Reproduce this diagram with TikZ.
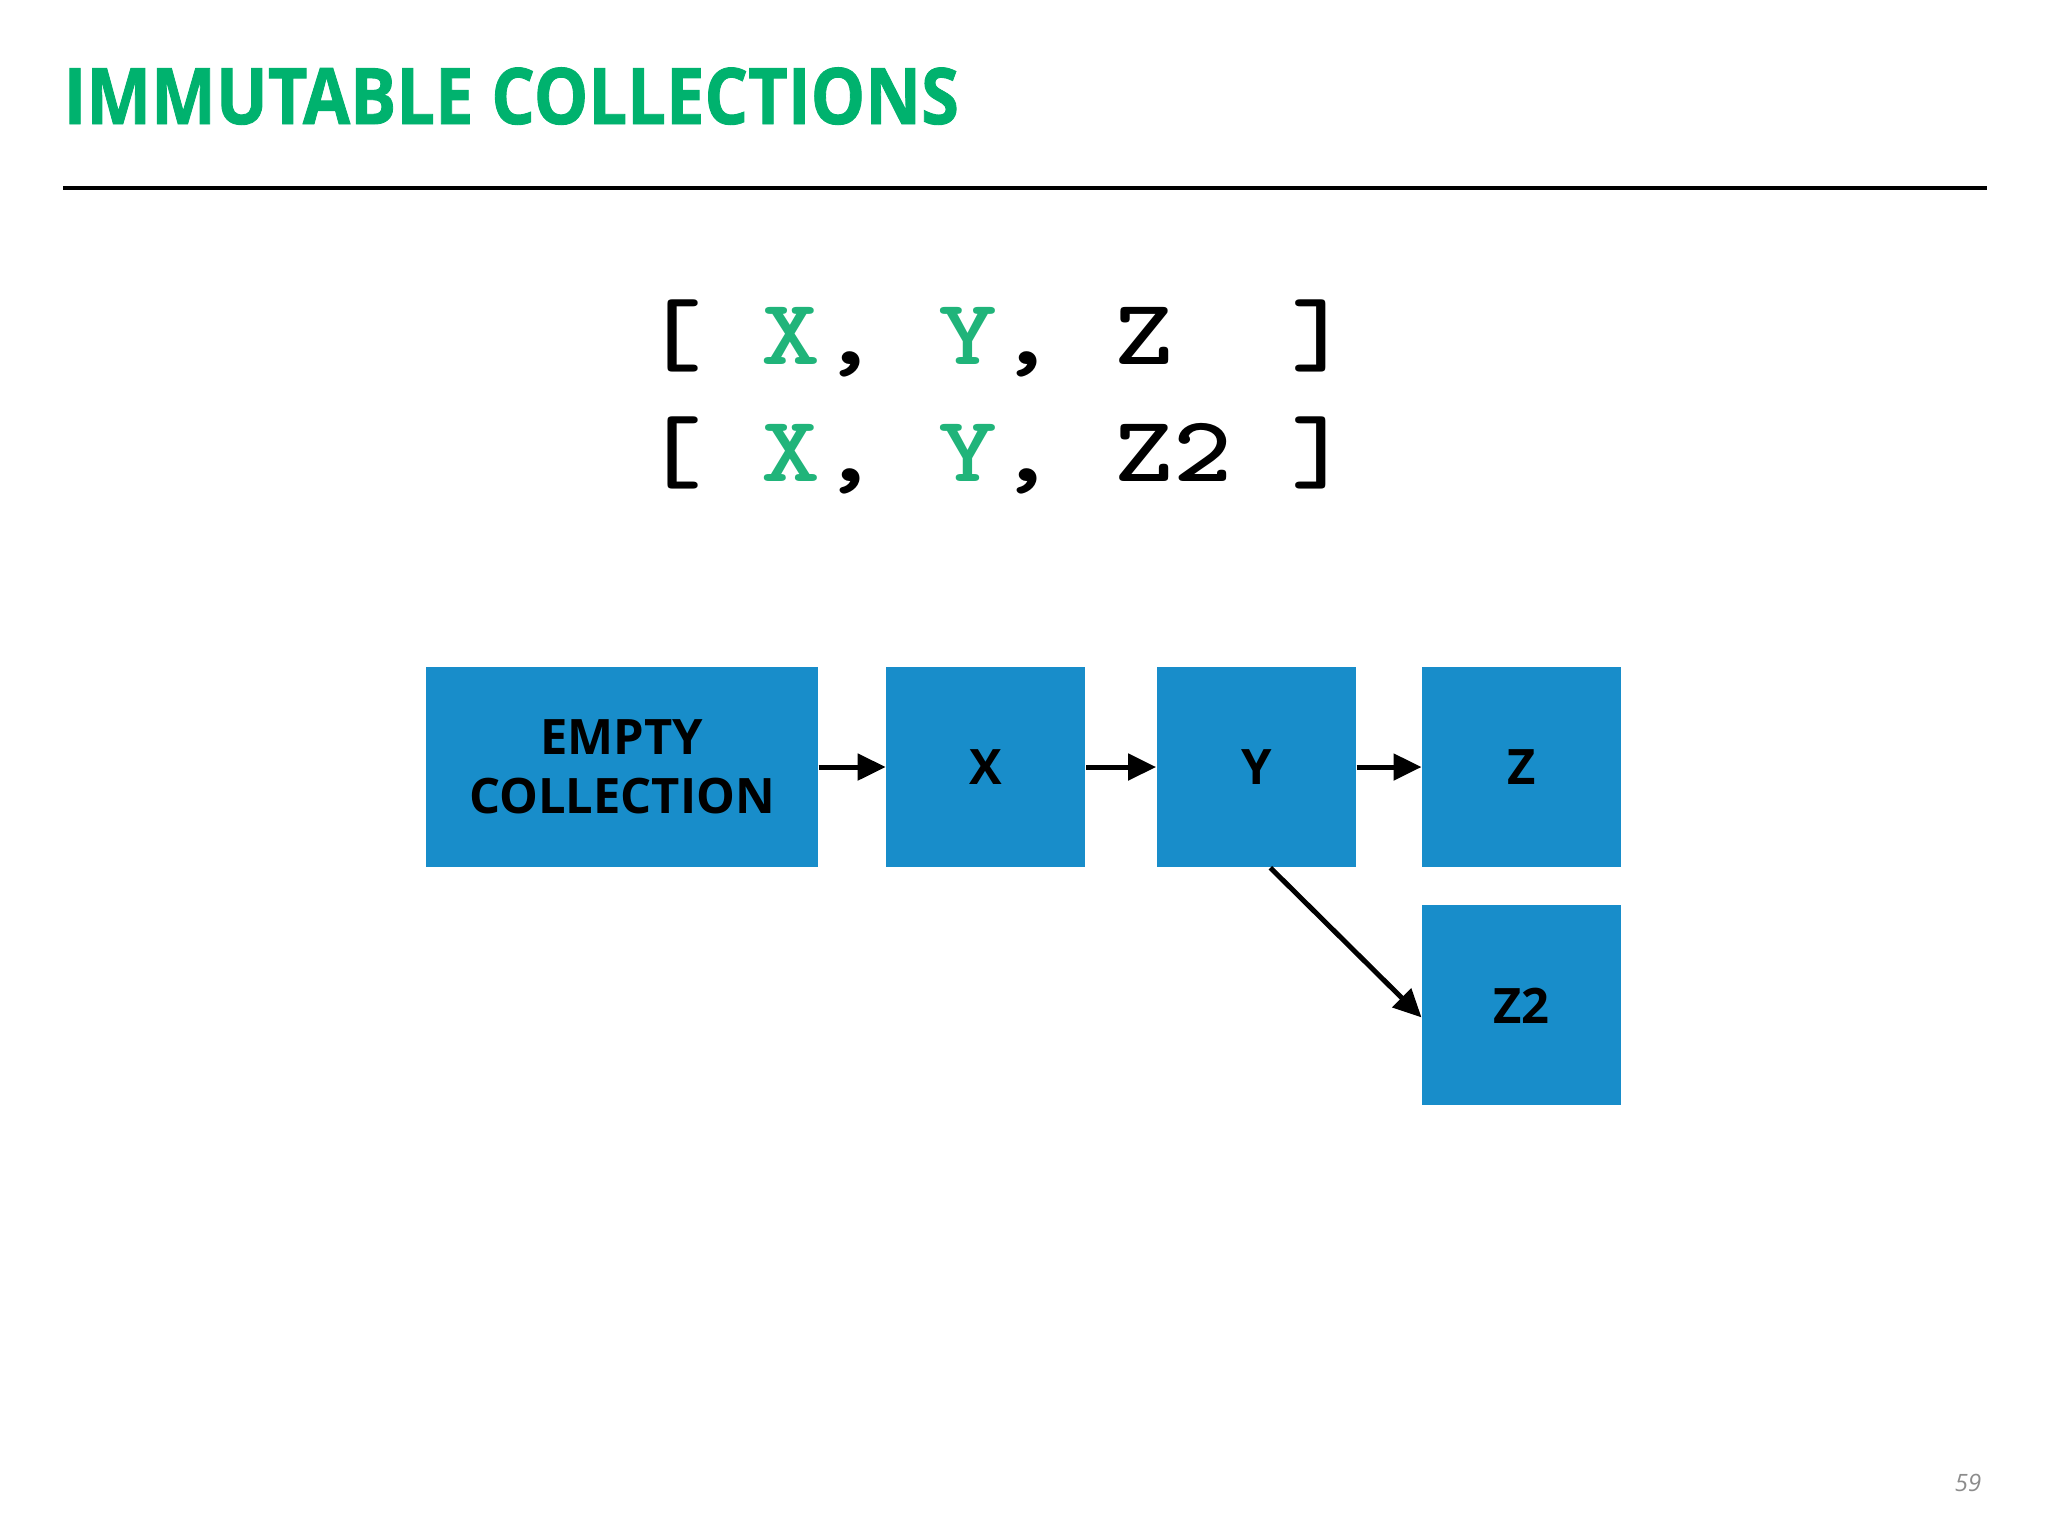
\documentclass[tikz,border=0pt]{standalone}
\usepackage{fontspec}
\setmainfont{Open Sans}
\usetikzlibrary{positioning,arrows.meta}
\definecolor{titlegreen}{RGB}{0,178,110}
\definecolor{codegreen}{RGB}{32,180,122}
\definecolor{boxblue}{RGB}{24,141,202}
\definecolor{pagegray}{RGB}{140,140,140}
\begin{document}
\begin{tikzpicture}[x=0.1mm, y=-0.1mm,
  every node/.style={inner sep=0pt},
  cell/.style={fill=boxblue, minimum width=19.9mm, minimum height=20mm, align=center, font=\fontsize{13.9}{16.8}\selectfont\bfseries},
  code/.style={anchor=base west, font=\fontsize{26.6}{30}\selectfont\ttfamily\bfseries},
  link/.style={-{Triangle[length=2.8mm, width=2.6mm]}, line width=0.5mm}]
\useasboundingbox (0,0) rectangle (2048,1536);
% title and rule
\node[anchor=base west, text=titlegreen, font=\fontsize{22.2}{26}\selectfont\bfseries\addfontfeature{FakeBold=1.2}] (title) at (63,124) {\scalebox{0.88}[1]{IMMUTABLE COLLECTIONS}};
\draw[line width=0.4mm] (63,188) -- (1987,188);
% the two lists
\node[code] (listold) at (643,364) {\scalebox{1.2}[1]{[ {\color{codegreen}X}, {\color{codegreen}Y}, Z~~]}};
\node[code] (listnew) at (643,481) {\scalebox{1.2}[1]{[ {\color{codegreen}X}, {\color{codegreen}Y}, Z2 ]}};
% the nodes
\node[cell, minimum width=39.2mm] (empty) at (622,767) {EMPTY\\COLLECTION};
\node[cell, right=6.7mm of empty] (x) {X};
\node[cell, right=7.0mm of x] (y) {Y};
\node[cell, right=6.5mm of y] (z) {Z};
\node[cell, below=3.7mm of z] (ztwo) {Z2};
\draw[link] (empty) -- (x);
\draw[link] (x) -- (y);
\draw[link] (y) -- (z);
\draw[link] ([xshift=1.4mm]y.south) -- ([yshift=-1.2mm]ztwo.west);
% page number
\node[text=pagegray, font=\fontsize{6.8}{8}\selectfont\itshape] (page) at (1968,1483) {59};
\end{tikzpicture}
\end{document}
